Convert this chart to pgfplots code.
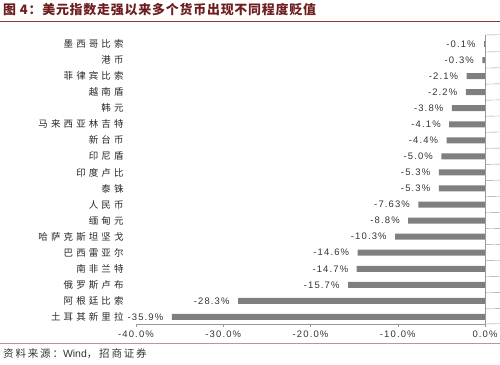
\documentclass[border=0pt]{standalone}
\usepackage{pgfplots}
\pgfplotsset{compat=1.18}
\usepackage{pgfplotstable}
\usepackage{fontspec}
\setmainfont{Liberation Sans}
\newfontfamily\cjk[LetterSpace=33]{Noto Sans CJK SC}
\newfontfamily\cjktitle[LetterSpace=6]{Noto Sans CJK SC}
\newfontfamily\cjkfoot[LetterSpace=18]{Noto Sans CJK SC}
\newfontfamily\num[LetterSpace=12]{Liberation Sans}
\definecolor{titlered}{HTML}{6E1E1E}
\definecolor{linered}{HTML}{8E3A3A}
\definecolor{footline}{HTML}{C89090}
\definecolor{barg}{HTML}{7F7F7F}
\definecolor{axg}{HTML}{999999}
\definecolor{txt}{HTML}{333333}

\pgfplotstableread[col sep=comma]{
idx,val,lab
0,-35.9,-35.9
1,-28.3,-28.3
2,-15.7,-15.7
3,-14.7,-14.7
4,-14.6,-14.6
5,-10.3,-10.3
6,-8.8,-8.8
7,-7.63,-7.63
8,-5.3,-5.3
9,-5.3,-5.3
10,-5.0,-5.0
11,-4.4,-4.4
12,-4.1,-4.1
13,-3.8,-3.8
14,-2.2,-2.2
15,-2.1,-2.1
16,-0.3,-0.3
17,-0.1,-0.1
}\data

\begin{document}
\begin{tikzpicture}
\useasboundingbox (0,0) rectangle (500bp,365bp);
\node[anchor=west, text=titlered, font=\cjktitle\bfseries\fontsize{13}{15}\selectfont, inner sep=0pt] at (3bp,355bp) {图 4：美元指数走强以来多个货币出现不同程度贬值};
\draw[linered, line width=1bp] (0,343bp) -- (500bp,343bp);
\draw[footline, line width=0.8bp] (0,22bp) -- (500bp,22bp);
\node[anchor=west, text=txt, font=\fontsize{10.5}{12}\selectfont, inner sep=0pt] at (3bp,11bp) {{\cjkfoot 资料来源：}Wind{\cjkfoot ，招商证券}};
\begin{axis}[
  at={(136bp,41bp)}, anchor=south west,
  scale only axis, width=349bp, height=289bp,
  xbar, bar width=6bp,
  xmin=-40, xmax=0,
  ymin=-0.44, ymax=17.56,
  axis x line*=bottom, axis y line*=left,
  y axis line style={draw=none},
  x axis line style={axg},
  xtick={-40,-30,-20,-10,0},
  xticklabels={-40.0\%,-30.0\%,-20.0\%,-10.0\%,0.0\%},
  x tick style={axg},
  tick align=outside,
  major tick length=3bp,
  ytick={0,...,17},
  yticklabels={土耳其新里拉,阿根廷比索,俄罗斯卢布,南非兰特,巴西雷亚尔,哈萨克斯坦坚戈,缅甸元,人民币,泰铢,印度卢比,印尼盾,新台币,马来西亚林吉特,韩元,越南盾,菲律宾比索,港币,墨西哥比索},
  y tick style={draw=none},
  yticklabel style={font=\cjk\fontsize{9.5}{11}\selectfont, text=black!85, xshift=-6bp},
  xticklabel style={font=\num\fontsize{9.5}{11}\selectfont, text=txt},
  nodes near coords={\pgfplotspointmeta\%},
  point meta=explicit symbolic,
  every node near coord/.append style={font=\num\fontsize{9.5}{11}\selectfont, text=txt, anchor=east, xshift=-5bp},
  clip=false,
]
\addplot[fill=barg, draw=none] table[x=val, y=idx, meta=lab] {\data};
\draw[axg] (axis cs:0,-0.44) -- (axis cs:0,17.56);
\pgfplotsinvokeforeach{-0.44,0.5,1.5,2.5,3.5,4.5,5.5,6.5,7.5,8.5,9.5,10.5,11.5,12.5,13.5,14.5,15.5,16.5,17.56}{
  \draw[axg] (axis cs:0,#1) -- ++(2.5bp,0);
}
\end{axis}
\end{tikzpicture}
\end{document}
